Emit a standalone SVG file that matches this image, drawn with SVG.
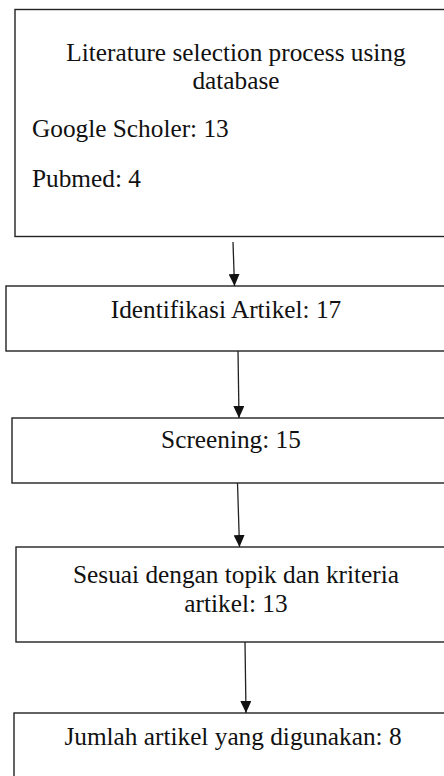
<svg xmlns="http://www.w3.org/2000/svg" width="444" height="776" viewBox="0 0 444 776">
<defs>
<style>
.box{fill:#fff;stroke:#222;stroke-width:1.4}
.t{font-family:"Liberation Serif","Times New Roman",serif;font-size:25.3px;fill:#111}
.c{text-anchor:middle}
.ln{stroke:#222;stroke-width:1.3;fill:none}
</style>
<marker id="ah" markerWidth="13" markerHeight="11" refX="12" refY="5.5" orient="auto" markerUnits="userSpaceOnUse">
<path d="M0,0 L12,5.5 L0,11 Z" fill="#111"/>
</marker>
</defs>
<rect width="444" height="776" fill="#fff"/>
<g id="n1">
<rect class="box" x="15" y="9.5" width="450" height="227"/>
<text class="t c" x="236" y="61">Literature selection process using</text>
<text class="t c" x="236" y="89">database</text>
<text class="t" x="32" y="137">Google Scholer: 13</text>
<text class="t" x="32" y="187">Pubmed: 4</text>
</g>
<g id="n2">
<rect class="box" x="6" y="286" width="460" height="65"/>
<text class="t c" x="226" y="318">Identifikasi Artikel: 17</text>
</g>
<g id="n3">
<rect class="box" x="12" y="418" width="460" height="65"/>
<text class="t c" x="231" y="448">Screening: 15</text>
</g>
<g id="n4">
<rect class="box" x="16" y="547" width="460" height="95"/>
<text class="t c" x="236" y="583">Sesuai dengan topik dan kriteria</text>
<text class="t c" x="236" y="612">artikel: 13</text>
</g>
<g id="n5">
<rect class="box" x="14" y="713" width="460" height="90"/>
<text class="t c" x="233" y="745">Jumlah artikel yang digunakan: 8</text>
</g>
<g id="connectors">
<line class="ln" x1="233" y1="242" x2="234.5" y2="286" marker-end="url(#ah)"/>
<line class="ln" x1="238" y1="351" x2="239" y2="418" marker-end="url(#ah)"/>
<line class="ln" x1="237.5" y1="483" x2="239.5" y2="547" marker-end="url(#ah)"/>
<line class="ln" x1="245" y1="642" x2="246" y2="713" marker-end="url(#ah)"/>
</g>
</svg>
